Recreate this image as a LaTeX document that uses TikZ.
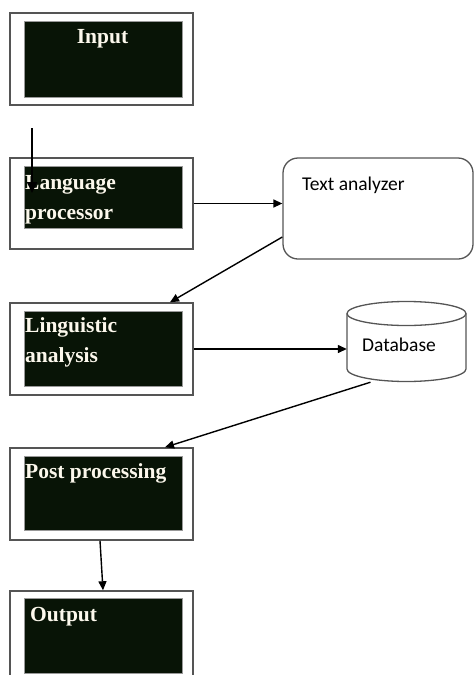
\documentclass[tikz,border=0pt]{standalone}
\usepackage{fontspec}
\newfontfamily\serifbold{Liberation Serif}
\newfontfamily\calfont{Carlito}
\usetikzlibrary{arrows.meta,positioning}
\definecolor{boxdark}{RGB}{8,20,6}
\definecolor{boxline}{RGB}{85,85,85}
\definecolor{lbltext}{RGB}{252,248,236}

\begin{document}
\begin{tikzpicture}[x=1pt, y=-1pt, >={Triangle[length=9pt,width=8pt]},
    outerbox/.style={draw=boxline, line width=1.5pt, fill=white, minimum width=183pt, inner sep=0pt},
    innerbox/.style={fill=boxdark, draw=boxline!60, line width=0.6pt, minimum width=158pt, inner sep=0pt},
    lbl/.style={text=lbltext, font=\serifbold\bfseries\fontsize{21.5}{30}\selectfont, inner sep=0pt, align=left},
    sidetext/.style={font=\calfont\fontsize{19.5}{22}\selectfont, inner sep=0pt},
    conn/.style={black, line width=1.4pt, ->}]
    \useasboundingbox (0,0) rectangle (474,675);
    \clip (0,0) rectangle (474,675);
    % left column of blocks
    \node[outerbox, minimum height=92pt] (inp) at (101.5,59) {};
    \node[innerbox, minimum height=76pt] (inpIn) at (103,59) {};
    \node[outerbox, minimum height=91pt] (lp) at (101.5,203.5) {};
    \node[innerbox, minimum height=62pt] (lpIn) at (103,197) {};
    \node[outerbox, minimum height=92pt] (la) at (101.5,349) {};
    \node[innerbox, minimum height=75pt] (laIn) at (103,348.5) {};
    \node[outerbox, minimum height=92pt] (pp) at (101.5,494) {};
    \node[innerbox, minimum height=74pt] (ppIn) at (103,493) {};
    \node[outerbox, minimum height=94pt] (out) at (101.5,638) {};
    \node[innerbox, minimum height=75pt] (outIn) at (103,635.5) {};
    \node[lbl, anchor=base] (inpText) at (102.5,43) {Input};
    \node[lbl, anchor=base west] (lpText) at (25,219) {Language\\processor};
    \node[lbl, anchor=base west] (laText) at (25,362) {Linguistic\\analysis};
    \node[lbl, anchor=base west] (ppText) at (25,478) {Post processing};
    \node[lbl, anchor=base west] (outText) at (30,621.5) {Output};
    % right column
    \node[draw=boxline, line width=1.3pt, rounded corners=15pt, minimum width=190pt, minimum height=101pt] (ta) at (378,208.5) {};
    \node[sidetext, anchor=base west] (taText) at (302,190) {Text analyzer};
    \node[minimum width=119pt, minimum height=80pt, inner sep=0pt] (db) at (406.5,342) {};
    \draw[boxline, line width=1.3pt] (406.5,313.5) ellipse [x radius=59.5, y radius=12];
    \draw[boxline, line width=1.3pt] (347,313.5) -- (347,369) arc [start angle=180, end angle=0, x radius=59.5, y radius=12.5] -- (466,313.5);
    \node[sidetext] (dbText) at (399,345) {Database};
    % connectors
    \coordinate (startArr) at (32,128);
    \coordinate (endArr) at (32,193);
    \draw[conn, line width=2pt, >={Triangle[length=11pt,width=10pt]}] (startArr) -- (endArr);
    \draw[conn] (lp.east) -- (lp.east -| ta.west);
    \draw[conn] ([yshift=-28.5pt]ta.west) -- ([xshift=68.5pt]la.north);
    \draw[conn] (la.east) -- (la.east -| db.west);
    \draw[conn] ([xshift=-36pt]db.south) -- ([xshift=63.5pt]pp.north);
    \draw[conn] ([xshift=-1.5pt]pp.south) -- ([xshift=1.5pt]out.north);
\end{tikzpicture}
\end{document}
